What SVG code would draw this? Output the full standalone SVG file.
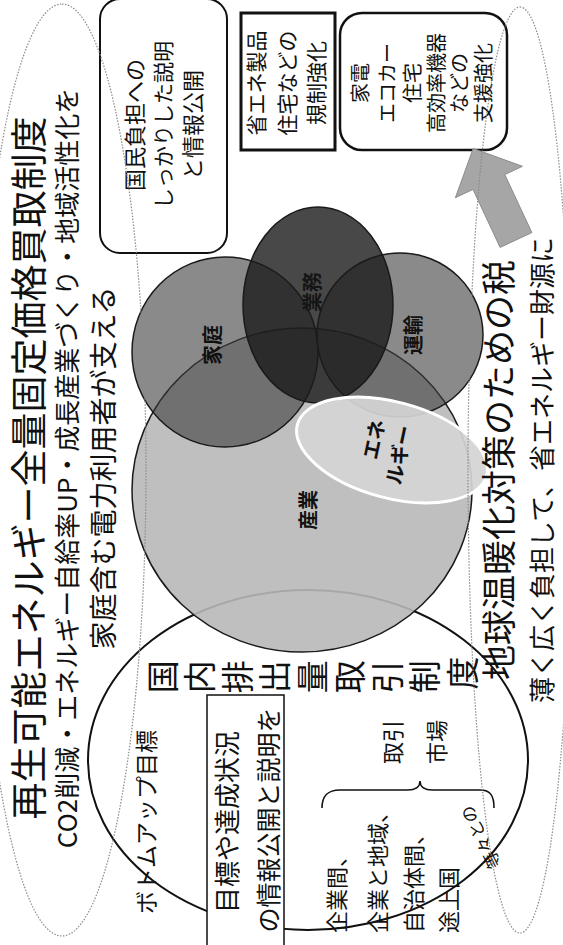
<svg xmlns="http://www.w3.org/2000/svg" width="563" height="945" viewBox="0 0 563 945">
<style>
text{font-family:"Noto Sans CJK JP","Noto Sans",sans-serif;fill:#111;}
.c{text-anchor:middle;}
.box{fill:#fff;stroke:#111;}
.venn{stroke:#1a1a1a;stroke-width:1.5;}
.dot{fill:none;stroke:#8a8a8a;stroke-width:1.2;stroke-dasharray:1.5 1.5;}
.lbl{font-size:20px;font-weight:bold;text-anchor:middle;}
</style>
<rect x="0" y="0" width="563" height="945" fill="#fff"/>
<g transform="matrix(0,-1,1,0,0,945)">
  <g id="emission-trading">
    <ellipse cx="185" cy="308" rx="170" ry="220" fill="none" stroke="#111" stroke-width="2"/>
  </g>
  <g id="venn">
    <ellipse id="sangyo" class="venn" cx="455" cy="302" rx="162" ry="170" fill="#b8b8b8" fill-opacity="0.9"/>
    <ellipse id="katei" class="venn" cx="593" cy="225" rx="95" ry="93" fill="#3c3c3c" fill-opacity="0.6"/>
    <ellipse id="unyu" class="venn" cx="610" cy="400" rx="82" ry="83" fill="#3c3c3c" fill-opacity="0.6"/>
    <ellipse id="gyomu" class="venn" cx="640" cy="318" rx="98" ry="75" fill="#1a1a1a" fill-opacity="0.8"/>
    <ellipse id="energy" cx="495" cy="392" rx="48" ry="98" transform="rotate(15 495 392)" fill="#d4d4d4" fill-opacity="0.93" stroke="#fff" stroke-width="3"/>
    <text class="lbl" x="600" y="220">家庭</text>
    <text class="lbl" x="653" y="320" style="fill:#161616">業務</text>
    <text class="lbl" x="610" y="421">運輸</text>
    <g transform="rotate(12 498 386)">
      <text class="lbl" x="503" y="380">エネ</text>
      <text class="lbl" x="493" y="408">ルギー</text>
    </g>
    <text class="lbl" x="435" y="316">産業</text>
  </g>
  <g id="fit-title">
    <text class="c" x="477" y="43" font-size="37">再生可能エネルギー全量固定価格買取制度</text>
    <text class="c" x="477" y="77" font-size="26">CO2削減・エネルギー自給率UP・成長産業づくり・地域活性化を</text>
    <text class="c" x="477" y="114" font-size="28">家庭含む電力利用者が支える</text>
  </g>
  <g id="tax-title">
    <text class="c" x="475" y="512" font-size="35">地球温暖化対策のための税</text>
    <text class="c" x="475" y="552" font-size="26">薄く広く負担して、省エネルギー財源に</text>
  </g>
  <g id="box-explain">
    <rect class="box" x="692" y="100" width="254" height="127" rx="20" stroke-width="2"/>
    <text class="c" x="820" y="143" font-size="22">国民負担への</text>
    <text class="c" x="820" y="171" font-size="21">しっかりした説明</text>
    <text class="c" x="820" y="201" font-size="22">と情報公開</text>
  </g>
  <g id="box-regulation">
    <rect class="box" x="795" y="241" width="137" height="94" stroke-width="3"/>
    <text class="c" x="862" y="264" font-size="21">省エネ製品</text>
    <text class="c" x="862" y="295" font-size="21">住宅などの</text>
    <text class="c" x="862" y="324" font-size="21">規制強化</text>
  </g>
  <g id="box-support">
    <rect class="box" x="795" y="340" width="137" height="167" rx="22" stroke-width="2.5"/>
    <text class="c" x="862" y="368" font-size="20">家電</text>
    <text class="c" x="862" y="395" font-size="20">エコカー</text>
    <text class="c" x="862" y="420" font-size="20">住宅</text>
    <text class="c" x="862" y="444" font-size="20">高効率機器</text>
    <text class="c" x="862" y="467" font-size="20">などの</text>
    <text class="c" x="862" y="491" font-size="20">支援強化</text>
  </g>
  <g id="connectors">
    <polygon points="697.6,500.1 712.4,531.9 770.4,504.8 778.7,522.4 796.5,473.2 747.3,455.4 755.6,473" fill="#a6a6a6" stroke="#8c8c8c" stroke-width="1"/>
    <path d="M137 322 C150 322 155 328 155 340 L155 408 C155 415 158 420 164 420 C158 420 155 425 155 432 L155 480 C155 490 150 494 137 494" fill="none" stroke="#111" stroke-width="1.6"/>
  </g>
  <g id="ets-label">
    <text class="c" font-size="33">
      <tspan x="272" y="174.5">国</tspan>
      <tspan x="272" y="212">内</tspan>
      <tspan x="272" y="249.5">排</tspan>
      <tspan x="272" y="287">出</tspan>
      <tspan x="272" y="324.5">量</tspan>
      <tspan x="272" y="362">取</tspan>
      <tspan x="272" y="399.5">引</tspan>
      <tspan x="272" y="437">制</tspan>
      <tspan x="272" y="474.5">度</tspan>
    </text>
  </g>
  <g id="bottom-up">
    <text class="c" x="123" y="155" font-size="23">ボトムアップ目標</text>
  </g>
  <g id="box-disclosure">
    <rect class="box" x="-5" y="207" width="255" height="77" stroke-width="1.5" fill="none"/>
    <text class="c" x="123" y="237" font-size="26">目標や達成状況</text>
    <text class="c" x="125" y="278" font-size="25">の情報公開と説明を</text>
  </g>
  <g id="parties">
    <text x="12" y="345" font-size="22">企業間、</text>
    <text x="12" y="386" font-size="22">企業と地域、</text>
    <text x="12" y="422" font-size="22">自治体間、</text>
    <text x="12" y="457" font-size="22">途上国</text>
    <text class="c" x="108" y="487" font-size="17" transform="rotate(-26 108 481)">等々との</text>
  </g>
  <g id="market">
    <text class="c" x="203" y="401" font-size="22">取引</text>
    <text class="c" x="203" y="445" font-size="22">市場</text>
  </g>
  <g id="outlines">
    <ellipse class="dot" cx="475" cy="62" rx="466" ry="84"/>
    <ellipse class="dot" cx="475" cy="520" rx="463" ry="52"/>
  </g>
</g>
</svg>
